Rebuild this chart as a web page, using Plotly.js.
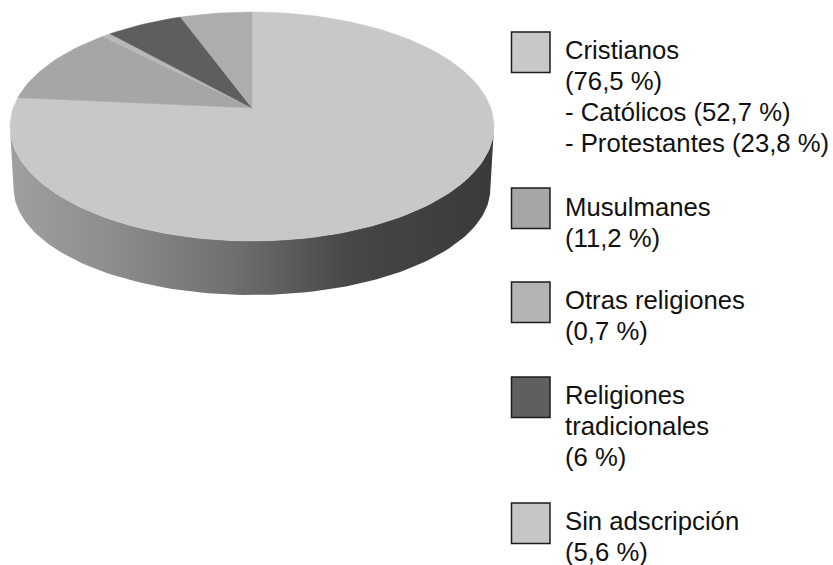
<!DOCTYPE html>
<html><head><meta charset="utf-8">
<script src="https://cdn.plot.ly/plotly-3.0.1.min.js"></script>
<style>html,body{margin:0;padding:0;background:#fff}#c{width:833px;height:565px}</style>
</head><body><div id="c"></div>
<script>
// Data: order runs clockwise from 12 o'clock
const categories = ['Cristianos','Musulmanes','Otras religiones','Religiones tradicionales','Sin adscripción'];
const values = [76.5, 11.2, 0.7, 6, 5.6];
const sliceColors = ['#c8c8c8','#a6a6a6','#b8b8b8','#5e5e5e','#adadad'];
const legendColors = ['#c8c8c8','#a6a6a6','#b4b4b4','#5f5f5f','#c6c6c6'];
const legendLines = [
  ['Cristianos','(76,5 %)','- Católicos (52,7 %)','- Protestantes (23,8 %)'],
  ['Musulmanes','(11,2 %)'],
  ['Otras religiones','(0,7 %)'],
  ['Religiones','tradicionales','(6 %)'],
  ['Sin adscripción','(5,6 %)']
];
const legendTop = [32, 188, 282, 377, 503];
const legendTextY = [50, 207, 300, 395, 521];
const wallStops = [[0,'#a0a0a0'],[0.2,'#8e8e8e'],[0.45,'#717171'],[0.7,'#474747'],[1,'#3a3a3a']];

// Perspective view of the pie disc
const apex = {x:252, y:108}, A = 238.8, B = 111.5, K = 0.1616;
const midY = 127, lowerMidY = 189, lowerSquash = 0.93, bottomScale = 0.985;
function project(pct){            // pct clockwise from the top
  const a = pct*2*Math.PI/100, u = Math.sin(a), v = Math.cos(a), d = 1+K*v;
  return {x: apex.x + A*u/d, y: apex.y - B*v/d};
}
function lower(p){ return {x: apex.x + (p.x-apex.x)*bottomScale, y: lowerMidY + (p.y-midY)*lowerSquash}; }

const traces = [];
// Side wall
const wx = [], wy = [], rim = [], startPct = 27.7, endPct = 72.3;
for(let p = startPct; p <= endPct+0.001; p += 0.4) rim.push(project(p));
rim.forEach(q => {wx.push(q.x); wy.push(q.y);});
rim.slice().reverse().forEach(q => {const l = lower(q); wx.push(l.x); wy.push(l.y);});
traces.push({type:'scatter',mode:'lines',x:wx,y:wy,fill:'toself',line:{width:0,color:'#555'},
  fillgradient:{type:'horizontal',colorscale:wallStops},hoverinfo:'skip',showlegend:false});
// Top slices
let cum = 0;
values.forEach((val,i) => {
  const xs = [apex.x], ys = [apex.y];
  const n = Math.max(2, Math.ceil(val*2));
  for(let k = 0; k <= n; k++){ const q = project(cum + val*k/n); xs.push(q.x); ys.push(q.y); }
  xs.push(apex.x); ys.push(apex.y);
  traces.push({type:'scatter',mode:'lines',name:categories[i],x:xs,y:ys,fill:'toself',fillcolor:sliceColors[i],
    line:{width:0.5,color:sliceColors[i]},hoverinfo:'name',showlegend:false});
  cum += val;
});

const shapes = legendColors.map((c,i) => ({type:'rect',xref:'x',yref:'y',x0:511.5,x1:550,
  y0:legendTop[i],y1:legendTop[i]+40.5,fillcolor:c,line:{color:'#1c1c1c',width:1.5}}));
const annotations = [];
legendLines.forEach((lines,i) => lines.forEach((t,j) => annotations.push({
  xref:'x',yref:'y',x:564,y:legendTextY[i]+j*31,text:t,showarrow:false,xanchor:'left',yanchor:'middle',
  align:'left',borderpad:0,font:{family:'"Liberation Sans",Arial,sans-serif',size:25.7,color:'#111'}})));

Plotly.newPlot('c',traces,{
  width:833,height:565,margin:{l:0,r:0,t:0,b:0},paper_bgcolor:'#fff',plot_bgcolor:'#fff',showlegend:false,
  xaxis:{range:[0,833],visible:false,fixedrange:true},
  yaxis:{range:[565,0],visible:false,fixedrange:true},
  shapes,annotations
},{displayModeBar:false});
</script></body></html>
